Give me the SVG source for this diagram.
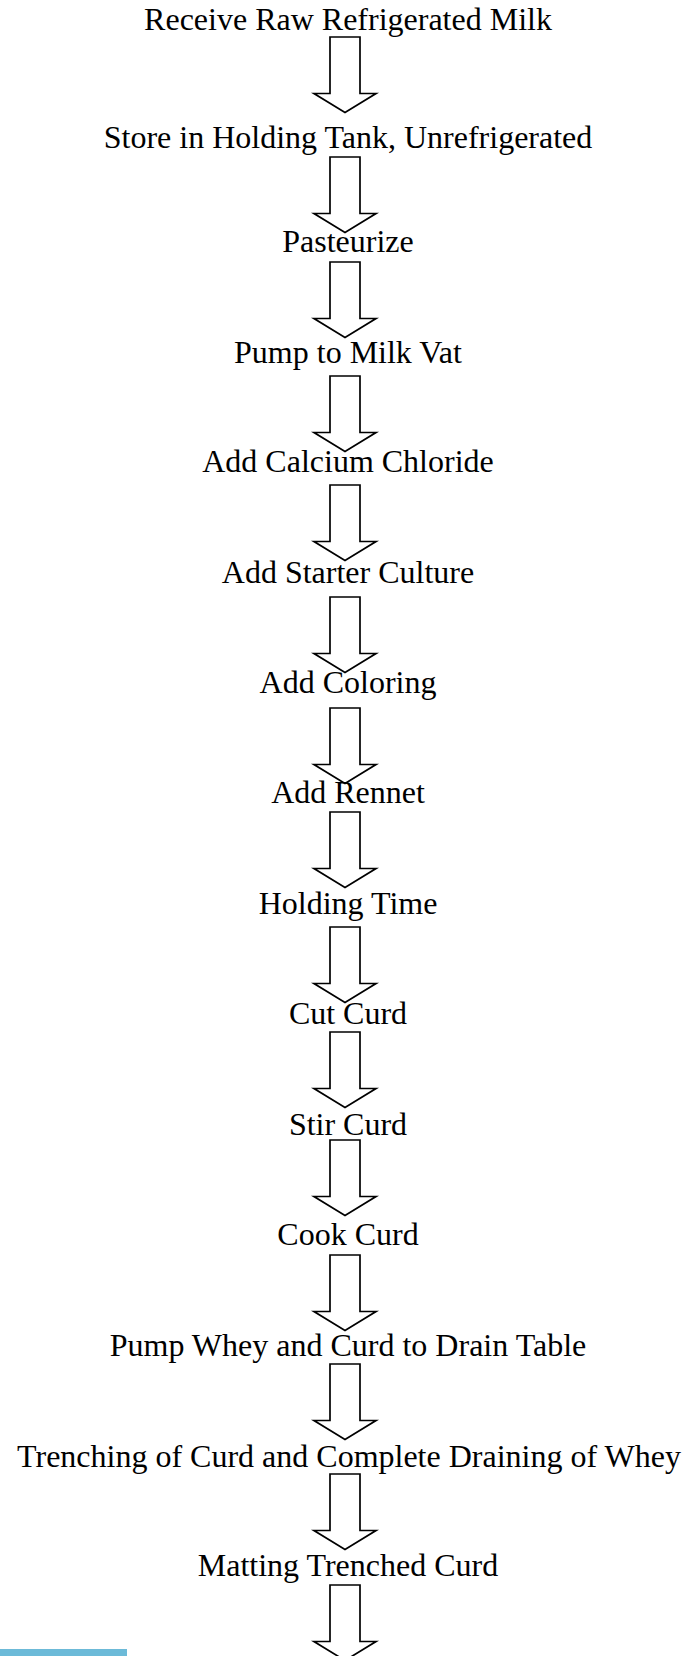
<svg xmlns="http://www.w3.org/2000/svg" width="684" height="1656" viewBox="0 0 684 1656">
<style>
text{font-family:"Liberation Serif","Times New Roman",serif;font-size:32px;fill:#000;text-anchor:middle}
.arr{fill:none;stroke:#000;stroke-width:1.7;stroke-linejoin:miter}
</style>
<defs>
<path id="a" class="arr" d="M330,0 H360 V56.5 H376 L345,75.5 L314,56.5 H330 Z"/>
</defs>
<rect width="684" height="1656" fill="#fff"/>
<g id="n1"><text x="348" y="30">Receive Raw Refrigerated Milk</text></g>
<g id="n2"><text x="348" y="148">Store in Holding Tank, Unrefrigerated</text></g>
<g id="n3"><text x="348" y="252">Pasteurize</text></g>
<g id="n4"><text x="348" y="363">Pump to Milk Vat</text></g>
<g id="n5"><text x="348" y="472">Add Calcium Chloride</text></g>
<g id="n6"><text x="348" y="583">Add Starter Culture</text></g>
<g id="n7"><text x="348" y="693">Add Coloring</text></g>
<g id="n8"><text x="348" y="803">Add Rennet</text></g>
<g id="n9"><text x="348" y="914">Holding Time</text></g>
<g id="n10"><text x="348" y="1024">Cut Curd</text></g>
<g id="n11"><text x="348" y="1135">Stir Curd</text></g>
<g id="n12"><text x="348" y="1245">Cook Curd</text></g>
<g id="n13"><text x="348" y="1356">Pump Whey and Curd to Drain Table</text></g>
<g id="n14"><text x="349" y="1467">Trenching of Curd and Complete Draining of Whey</text></g>
<g id="n15"><text x="348" y="1576">Matting Trenched Curd</text></g>
<g id="connectors">
<use href="#a" y="37"/>
<use href="#a" y="157"/>
<use href="#a" y="262"/>
<use href="#a" y="376"/>
<use href="#a" y="485"/>
<use href="#a" y="597"/>
<use href="#a" y="708"/>
<use href="#a" y="812"/>
<use href="#a" y="927"/>
<use href="#a" y="1032"/>
<use href="#a" y="1140"/>
<use href="#a" y="1255"/>
<use href="#a" y="1364"/>
<use href="#a" y="1474"/>
<use href="#a" y="1585"/>
</g>
<rect x="0" y="1649" width="127" height="7" fill="#6CBAD8"/>
</svg>
